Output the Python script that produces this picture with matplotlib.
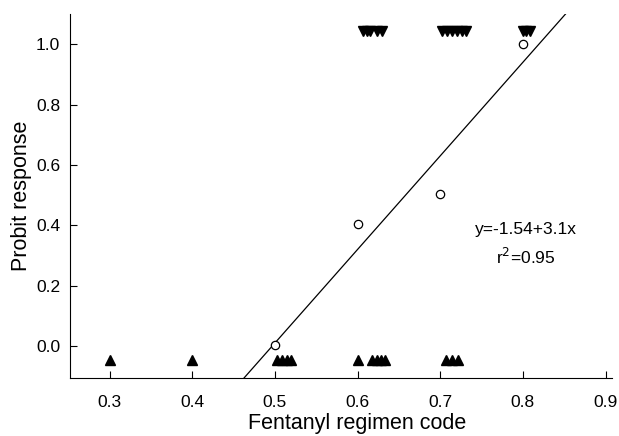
import numpy as np
import matplotlib.pyplot as plt

plt.rcParams['font.family'] = ['Liberation Sans', 'DejaVu Sans']

# lower markers (no response)
up_x = [0.3, 0.4, 0.503, 0.509, 0.515, 0.52, 0.6, 0.618, 0.623, 0.628, 0.633,
        0.707, 0.714, 0.721]
up_y = -0.046
# upper markers (response)
down_x = [0.606, 0.611, 0.615, 0.624, 0.63, 0.702, 0.708, 0.714, 0.72, 0.726,
          0.731, 0.8, 0.804, 0.808]
down_y = 1.043
# probit points
probit_x = [0.5, 0.6, 0.7, 0.8]
probit_y = [0.004, 0.404, 0.502, 1.0]
intercept = -1.54
slope = 3.1


def main():
    fig = plt.figure(figsize=(6.19, 4.36), dpi=100)
    ax = fig.add_axes([0.113, 0.133, 0.876, 0.835])

    ax.plot(up_x, [up_y] * len(up_x), linestyle='none', marker='^',
            color='black', markersize=7)
    ax.plot(down_x, [down_y] * len(down_x), linestyle='none', marker='v',
            color='black', markersize=7)

    xs = np.array([0.3, 0.9])
    ax.plot(xs, intercept + slope * xs, color='black', linewidth=0.9)

    ax.plot(probit_x, probit_y, linestyle='none', marker='o', markersize=6,
            markerfacecolor='white', markeredgecolor='black', markeredgewidth=0.9)

    ax.text(0.8035, 0.385, 'y=-1.54+3.1x', fontsize=12.5, ha='center', va='center')
    ax.text(0.8035, 0.295, 'r$^2$=0.95', fontsize=12.5, ha='center', va='center')

    ax.set_xlim(0.252, 0.908)
    ax.set_ylim(-0.106, 1.1)
    ax.set_xticks([0.3, 0.4, 0.5, 0.6, 0.7, 0.8, 0.9])
    ax.set_yticks([0.0, 0.2, 0.4, 0.6, 0.8, 1.0])
    ax.set_xticklabels(['0.3', '0.4', '0.5', '0.6', '0.7', '0.8', '0.9'])
    ax.set_yticklabels(['0.0', '0.2', '0.4', '0.6', '0.8', '1.0'])
    ax.tick_params(direction='in', length=5, width=0.8, labelsize=12.5)
    ax.tick_params(axis='x', pad=12)
    ax.tick_params(axis='y', pad=7)
    ax.spines['top'].set_visible(False)
    ax.spines['right'].set_visible(False)
    ax.set_xlabel('Fentanyl regimen code', fontsize=15.5, va='center')
    ax.set_ylabel('Probit response', fontsize=15.5, va='center')
    # x label sits under the middle of the tick range (0.6)
    ax.xaxis.set_label_coords((0.6 - 0.252) / (0.908 - 0.252), -0.126)
    ax.yaxis.set_label_coords(-0.09, 0.5)

    fig.savefig('out.png', dpi=100)


if __name__ == "__main__":
    main()
